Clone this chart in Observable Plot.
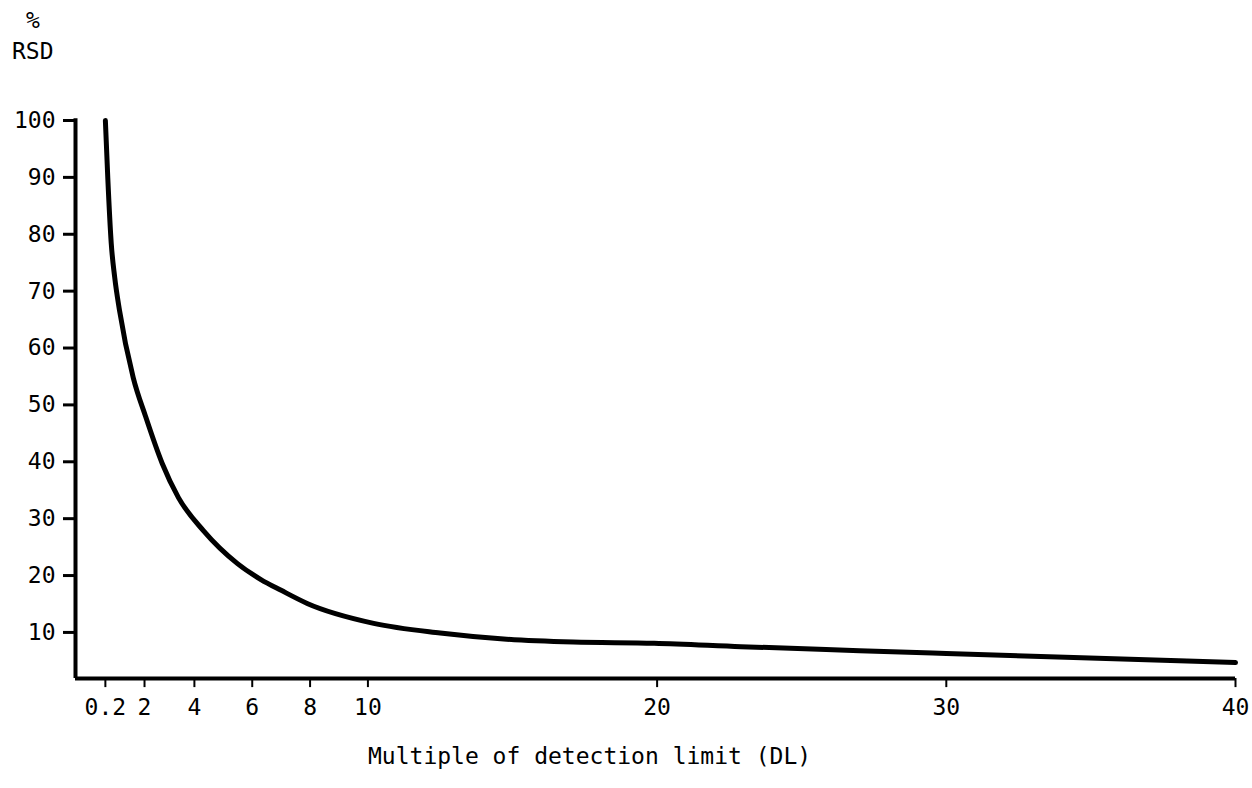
<!DOCTYPE html>
<html>
<head>
<meta charset="utf-8">
<script src="https://cdn.jsdelivr.net/npm/d3@7"></script>
<script src="https://cdn.jsdelivr.net/npm/@observablehq/plot@0.6"></script>
<style>
  html, body { margin: 0; padding: 0; background: #fff; }
  #wrap { position: relative; width: 1252px; height: 788px; font-family: "DejaVu Sans Mono", monospace; color: #000; }
  .lbl { position: absolute; font-size: 23px; white-space: pre; line-height: 1; }
</style>
</head>
<body>
<div id="wrap">
  <div class="lbl" style="left:26px; top:9px;">%</div>
  <div class="lbl" style="left:12px; top:40px;">RSD</div>
  <div class="lbl" style="left:368px; top:745px;">Multiple of detection limit (DL)</div>
</div>
<script>
// Multiple of detection limit (DL)
const multiple = [0.2, 0.31, 0.47, 0.63, 0.85, 1.48, 2.04, 2.71, 3.36, 4.31, 5.49, 6.3, 7.0, 7.9, 10.2, 12.5, 14.8, 17.1, 19.9, 22.9, 27, 30, 34.4, 40];
// % RSD
const rsd = [100, 90, 78.4, 72.4, 66.6, 54.8, 48, 39.7, 33.7, 27.9, 22.1, 19.3, 17.4, 15.1, 11.6, 9.9, 8.8, 8.3, 8.1, 7.5, 6.8, 6.3, 5.6, 4.7];
const xTicks = [0.2, 2, 4, 6, 8, 10, 20, 30, 40];
const yTicks = [10, 20, 30, 40, 50, 60, 70, 80, 90, 100];
const yBase = 1.9;
// the printed axis is not evenly spaced below 4: breakpoints of the drawn axis
const axisBreaks = [0, 0.2, 2, 4, 40];
const axisSpacing = [0, 1.03, 2.38, 4.1, 40];

const data = multiple.map((m, i) => ({m, r: rsd[i]}));
const warp = d3.scaleLinear().domain(axisBreaks).range(axisSpacing);

const chart = Plot.plot({
  width: 1252,
  height: 788,
  marginLeft: 75,
  marginRight: 17,
  marginTop: 120,
  marginBottom: 110,
  style: {fontFamily: "DejaVu Sans Mono, monospace", fontSize: "23px", color: "#000", background: "transparent"},
  x: {domain: [0, 40], transform: warp, axis: null},
  y: {domain: [yBase, 100], axis: null},
  marks: [
    Plot.ruleX(xTicks, {x: d => d, y1: yBase, y2: yBase - 1.6, strokeWidth: 2, stroke: "#000"}),
    Plot.text(xTicks, {x: d => d, y: yBase, text: d => String(d), dy: 20, lineAnchor: "top", fontSize: 23, fill: "#000"}),
    Plot.axisY({ticks: yTicks, tickSize: 12, tickPadding: 8, strokeWidth: 3, tickFormat: d => String(d), label: null, fontSize: 23}),
    Plot.ruleX([0], {y1: yBase, y2: 100.3, strokeWidth: 4, stroke: "#000"}),
    Plot.ruleY([yBase], {x1: 0, x2: 40, strokeWidth: 4, stroke: "#000"}),
    Plot.line(data, {x: "m", y: "r", curve: "monotone-x", strokeWidth: 5, stroke: "#000", strokeLinecap: "round"})
  ]
});
chart.style.position = "absolute";
chart.style.left = "0";
chart.style.top = "0";
document.getElementById("wrap").prepend(chart);
</script>
</body>
</html>
